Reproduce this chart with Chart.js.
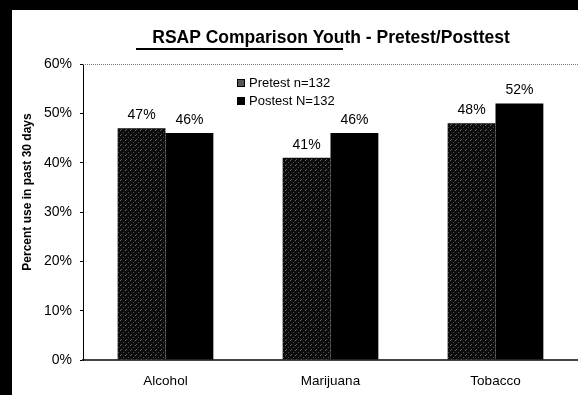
<!DOCTYPE html>
<html>
<head>
<meta charset="utf-8">
<script src="https://cdn.jsdelivr.net/npm/chart.js@4/dist/chart.umd.min.js"></script>
<style>
html, body { margin: 0; padding: 0; background: #fff; }
#wrap { width: 578px; height: 395px; }
</style>
</head>
<body>
<div id="wrap"><canvas id="chart" width="578" height="395"></canvas></div>
<script>
// данные с картинки
const categories = ["Alcohol", "Marijuana", "Tobacco"];
const pretest = [47, 41, 48];
const posttest = [46, 46, 52];
const seriesNames = ["Pretest n=132", "Postest N=132"];
const chartTitle = "RSAP Comparison Youth - Pretest/Posttest";
const yTitle = "Percent use in past 30 days";
const yMax = 60;
const yStep = 10;

const FONT = "Arial, 'Liberation Sans', sans-serif";

// пятнистая заливка для pretest (как на скане)
function makeSpeckle() {
    const c = document.createElement("canvas");
    c.width = 5; c.height = 5;
    const g = c.getContext("2d");
    g.fillStyle = "#0c0c0c";
    g.fillRect(0, 0, 5, 5);
    g.fillStyle = "#6a6a6a";
    g.fillRect(0, 0, 1, 1);
    g.fillStyle = "#4e4e4e";
    g.fillRect(3, 2, 1, 1);
    g.fillStyle = "#5c5c5c";
    g.fillRect(1, 4, 1, 1);
    return g.createPattern(c, "repeat");
}
const pretestFill = makeSpeckle();

// рамка скана, заголовок, подпись оси, пунктир сверху
const decorPlugin = {
    id: "decor",
    beforeDraw(chart) {
        const ctx = chart.ctx;
        ctx.save();
        ctx.fillStyle = "#fff";
        ctx.fillRect(0, 0, chart.width, chart.height);
        ctx.fillStyle = "#000";
        ctx.fillRect(0, 0, chart.width, 10);
        ctx.fillRect(0, 0, 12, chart.height);
        ctx.restore();
    },
    beforeDatasetsDraw(chart) {
        const ctx = chart.ctx;
        const y = chart.scales.y.getPixelForValue(yMax);
        ctx.save();
        ctx.strokeStyle = "#777";
        ctx.lineWidth = 1;
        ctx.setLineDash([1, 1]);
        ctx.beginPath();
        ctx.moveTo(chart.chartArea.left, y + 0.5);
        ctx.lineTo(chart.chartArea.right, y + 0.5);
        ctx.stroke();
        ctx.restore();
    },
    afterDraw(chart) {
        const ctx = chart.ctx;
        ctx.save();
        ctx.fillStyle = "#000";
        ctx.font = "bold 17.5px " + FONT;
        ctx.textAlign = "center";
        ctx.textBaseline = "middle";
        ctx.fillText(chartTitle, 331, 38);

        // подчёркивание (как на скане, только под левой частью)
        ctx.fillRect(136, 48, 207, 2);

        ctx.translate(28, 192);
        ctx.rotate(-Math.PI / 2);
        ctx.font = "bold 12px " + FONT;
        ctx.fillText(yTitle, 0, 0);
        ctx.restore();
    }
};

// легенда внутри области графика
const legendPlugin = {
    id: "innerLegend",
    afterDraw(chart) {
        const ctx = chart.ctx;
        ctx.save();
        ctx.font = "13px " + FONT;
        ctx.textBaseline = "middle";
        ctx.textAlign = "left";
        chart.data.datasets.forEach((ds, i) => {
            const y = 83 + i * 18;
            ctx.fillStyle = i === 0 ? "#555" : ds.backgroundColor;
            ctx.fillRect(237, y - 4, 8, 8);
            ctx.strokeStyle = "#000";
            ctx.lineWidth = 1;
            ctx.strokeRect(237.5, y - 3.5, 7, 7);
            ctx.fillStyle = "#000";
            ctx.fillText(ds.label, 249, y);
        });
        ctx.restore();
    }
};

// подписи значений над столбцами
const valueLabels = {
    id: "valueLabels",
    afterDatasetsDraw(chart) {
        const ctx = chart.ctx;
        ctx.save();
        ctx.font = "14px " + FONT;
        ctx.fillStyle = "#000";
        ctx.textAlign = "center";
        ctx.textBaseline = "middle";
        chart.data.datasets.forEach((ds, i) => {
            chart.getDatasetMeta(i).data.forEach((bar, j) => {
                ctx.fillText(ds.data[j] + "%", bar.x, bar.y - 13);
            });
        });
        ctx.restore();
    }
};

new Chart(document.getElementById("chart"), {
    type: "bar",
    data: {
        labels: categories,
        datasets: [
            {
                label: seriesNames[0],
                data: pretest,
                backgroundColor: pretestFill,
                borderWidth: 0,
                categoryPercentage: 0.58,
                barPercentage: 1.0
            },
            {
                label: seriesNames[1],
                data: posttest,
                backgroundColor: "#000",
                borderWidth: 0,
                categoryPercentage: 0.58,
                barPercentage: 1.0
            }
        ]
    },
    options: {
        responsive: false,
        animation: false,
        layout: { padding: { top: 64, right: 0, bottom: 0, left: 0 } },
        plugins: {
            legend: { display: false },
            title: { display: false },
            tooltip: { enabled: false }
        },
        scales: {
            x: {
                afterFit(scale) { scale.height = 35; },
                grid: { drawOnChartArea: false, drawTicks: false },
                border: { color: "#444", width: 2 },
                ticks: {
                    color: "#000",
                    padding: 13,
                    font: { family: FONT, size: 13.5 }
                }
            },
            y: {
                min: 0,
                max: yMax,
                afterFit(scale) { scale.width = 83; },
                grid: { drawOnChartArea: false, drawTicks: true, tickLength: 3, color: "#000" },
                border: { color: "#000", width: 1 },
                ticks: {
                    stepSize: yStep,
                    color: "#000",
                    padding: 8,
                    font: { family: FONT, size: 14 },
                    callback: v => v + "%"
                }
            }
        }
    },
    plugins: [decorPlugin, legendPlugin, valueLabels]
});
</script>
</body>
</html>
